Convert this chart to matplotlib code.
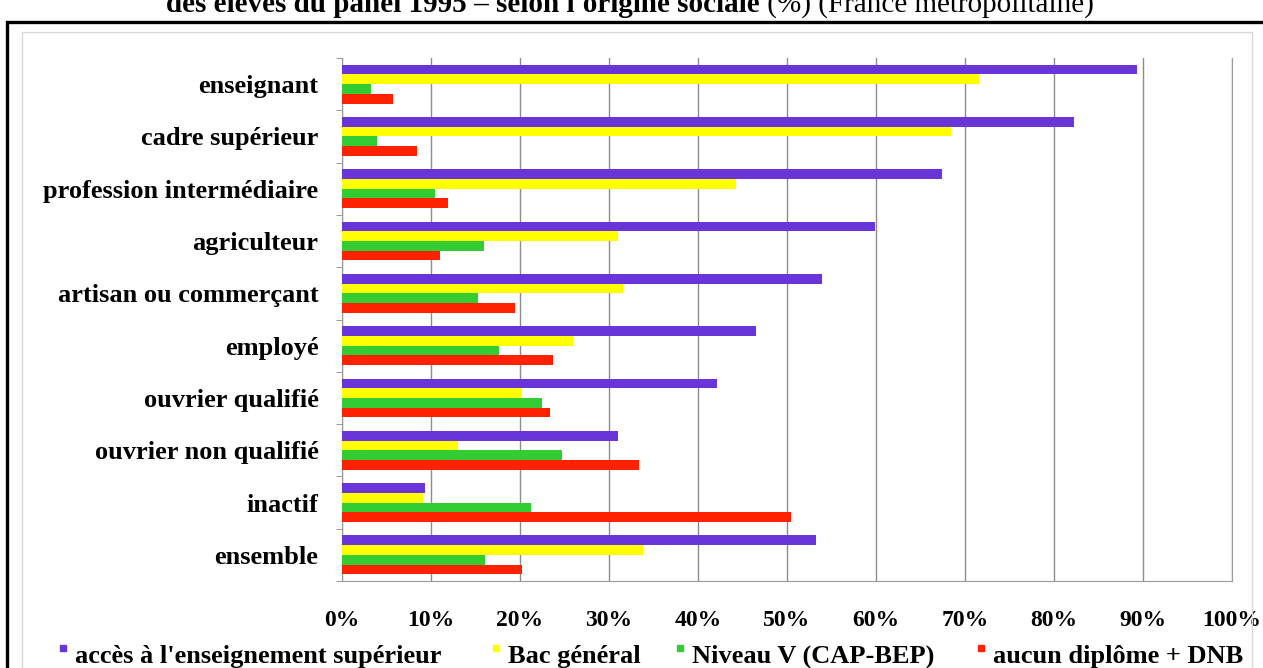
import matplotlib.pyplot as plt
import numpy as np
from matplotlib.patches import Rectangle

categories = ['enseignant', 'cadre supérieur', 'profession intermédiaire',
              'agriculteur', 'artisan ou commerçant', 'employé',
              'ouvrier qualifié', 'ouvrier non qualifié', 'inactif',
              'ensemble']

series_names = ["accès à l'enseignement supérieur", 'Bac général',
                'Niveau V (CAP-BEP)', 'aucun diplôme + DNB']

sup = [89.3, 82.2, 67.4, 59.9, 53.9, 46.5, 42.1, 31.0, 9.3, 53.3]
bac = [71.6, 68.4, 44.3, 31.0, 31.6, 25.9, 20.1, 13.0, 9.1, 33.8]
niv5 = [3.3, 3.9, 10.5, 15.9, 15.3, 17.6, 22.5, 24.7, 21.2, 16.1]
aucun = [5.7, 8.4, 11.9, 11.0, 19.4, 23.7, 23.4, 33.4, 50.4, 20.2]

colors = ['#6a35d8', '#ffff00', '#33cc33', '#ff2200']

plt.rcParams['font.family'] = ['Liberation Serif', 'DejaVu Serif']
plt.rcParams['font.weight'] = 'bold'

W, H = 1263, 668
fig = plt.figure(figsize=(W / 100, H / 100), dpi=100)
ax = fig.add_axes([342 / W, 1 - 581 / H, (1232 - 342) / W, (581 - 58) / H])

y = np.arange(len(categories))
h = 0.185
for k, (vals, col) in enumerate(zip([sup, bac, niv5, aucun], colors)):
    ax.barh(y + (k - 1.5) * h, vals, height=h, color=col, zorder=3)

ax.set_xlim(0, 100)
ax.set_ylim(len(categories) - 0.5, -0.5)
ax.set_xticks(np.arange(0, 101, 10))
ax.set_xticklabels([f'{v}%' for v in range(0, 101, 10)], fontsize=17,
                   fontweight='bold')
ax.set_yticks(y)
ax.set_yticklabels(categories, fontsize=19, fontweight='bold')
ax.set_yticks(np.arange(-0.5, len(categories)), minor=True)
ax.tick_params(axis='y', which='major', length=0, pad=17)
ax.tick_params(axis='y', which='minor', length=4, color='#888888')
ax.tick_params(axis='x', length=0, pad=21)
ax.grid(axis='x', color='#8c8c8c', linewidth=1, zorder=0)
ax.spines['top'].set_visible(False)
for side in ('left', 'bottom', 'right'):
    ax.spines[side].set_color('#9a9a9a')

# legend drawn as small squares with labels
leg_x = [60, 493, 677, 978]
for name, col, x in zip(series_names, colors, leg_x):
    fig.patches.append(Rectangle((x / W, 1 - 651 / H), 6 / W, 6 / H,
                                 transform=fig.transFigure, color=col))
    fig.text((x + 15) / W, 1 - 656 / H, name, fontsize=19,
             fontweight='bold', va='center', ha='left')

# title, cut by the top edge
fig.text(760 / W, 1 - 12 / H,
         "des élèves du panel 1995 – selon l'origine sociale",
         fontsize=21, fontweight='bold', ha='right', va='baseline')
fig.text(760 / W, 1 - 12 / H, ' (%) (France métropolitaine)', fontsize=21,
         fontweight='normal', ha='left', va='baseline')

# frames
fig.patches.append(Rectangle((22 / W, -0.1), (1252 - 22) / W, 1.1 - 32 / H,
                             transform=fig.transFigure, fill=False,
                             edgecolor='#d8d8d8', linewidth=1))
fig.patches.append(Rectangle((6.5 / W, -0.1), 1.2, 1.1 - 22 / H,
                             transform=fig.transFigure, fill=False,
                             edgecolor='black', linewidth=2.4))

fig.savefig('out.png', dpi=100)
